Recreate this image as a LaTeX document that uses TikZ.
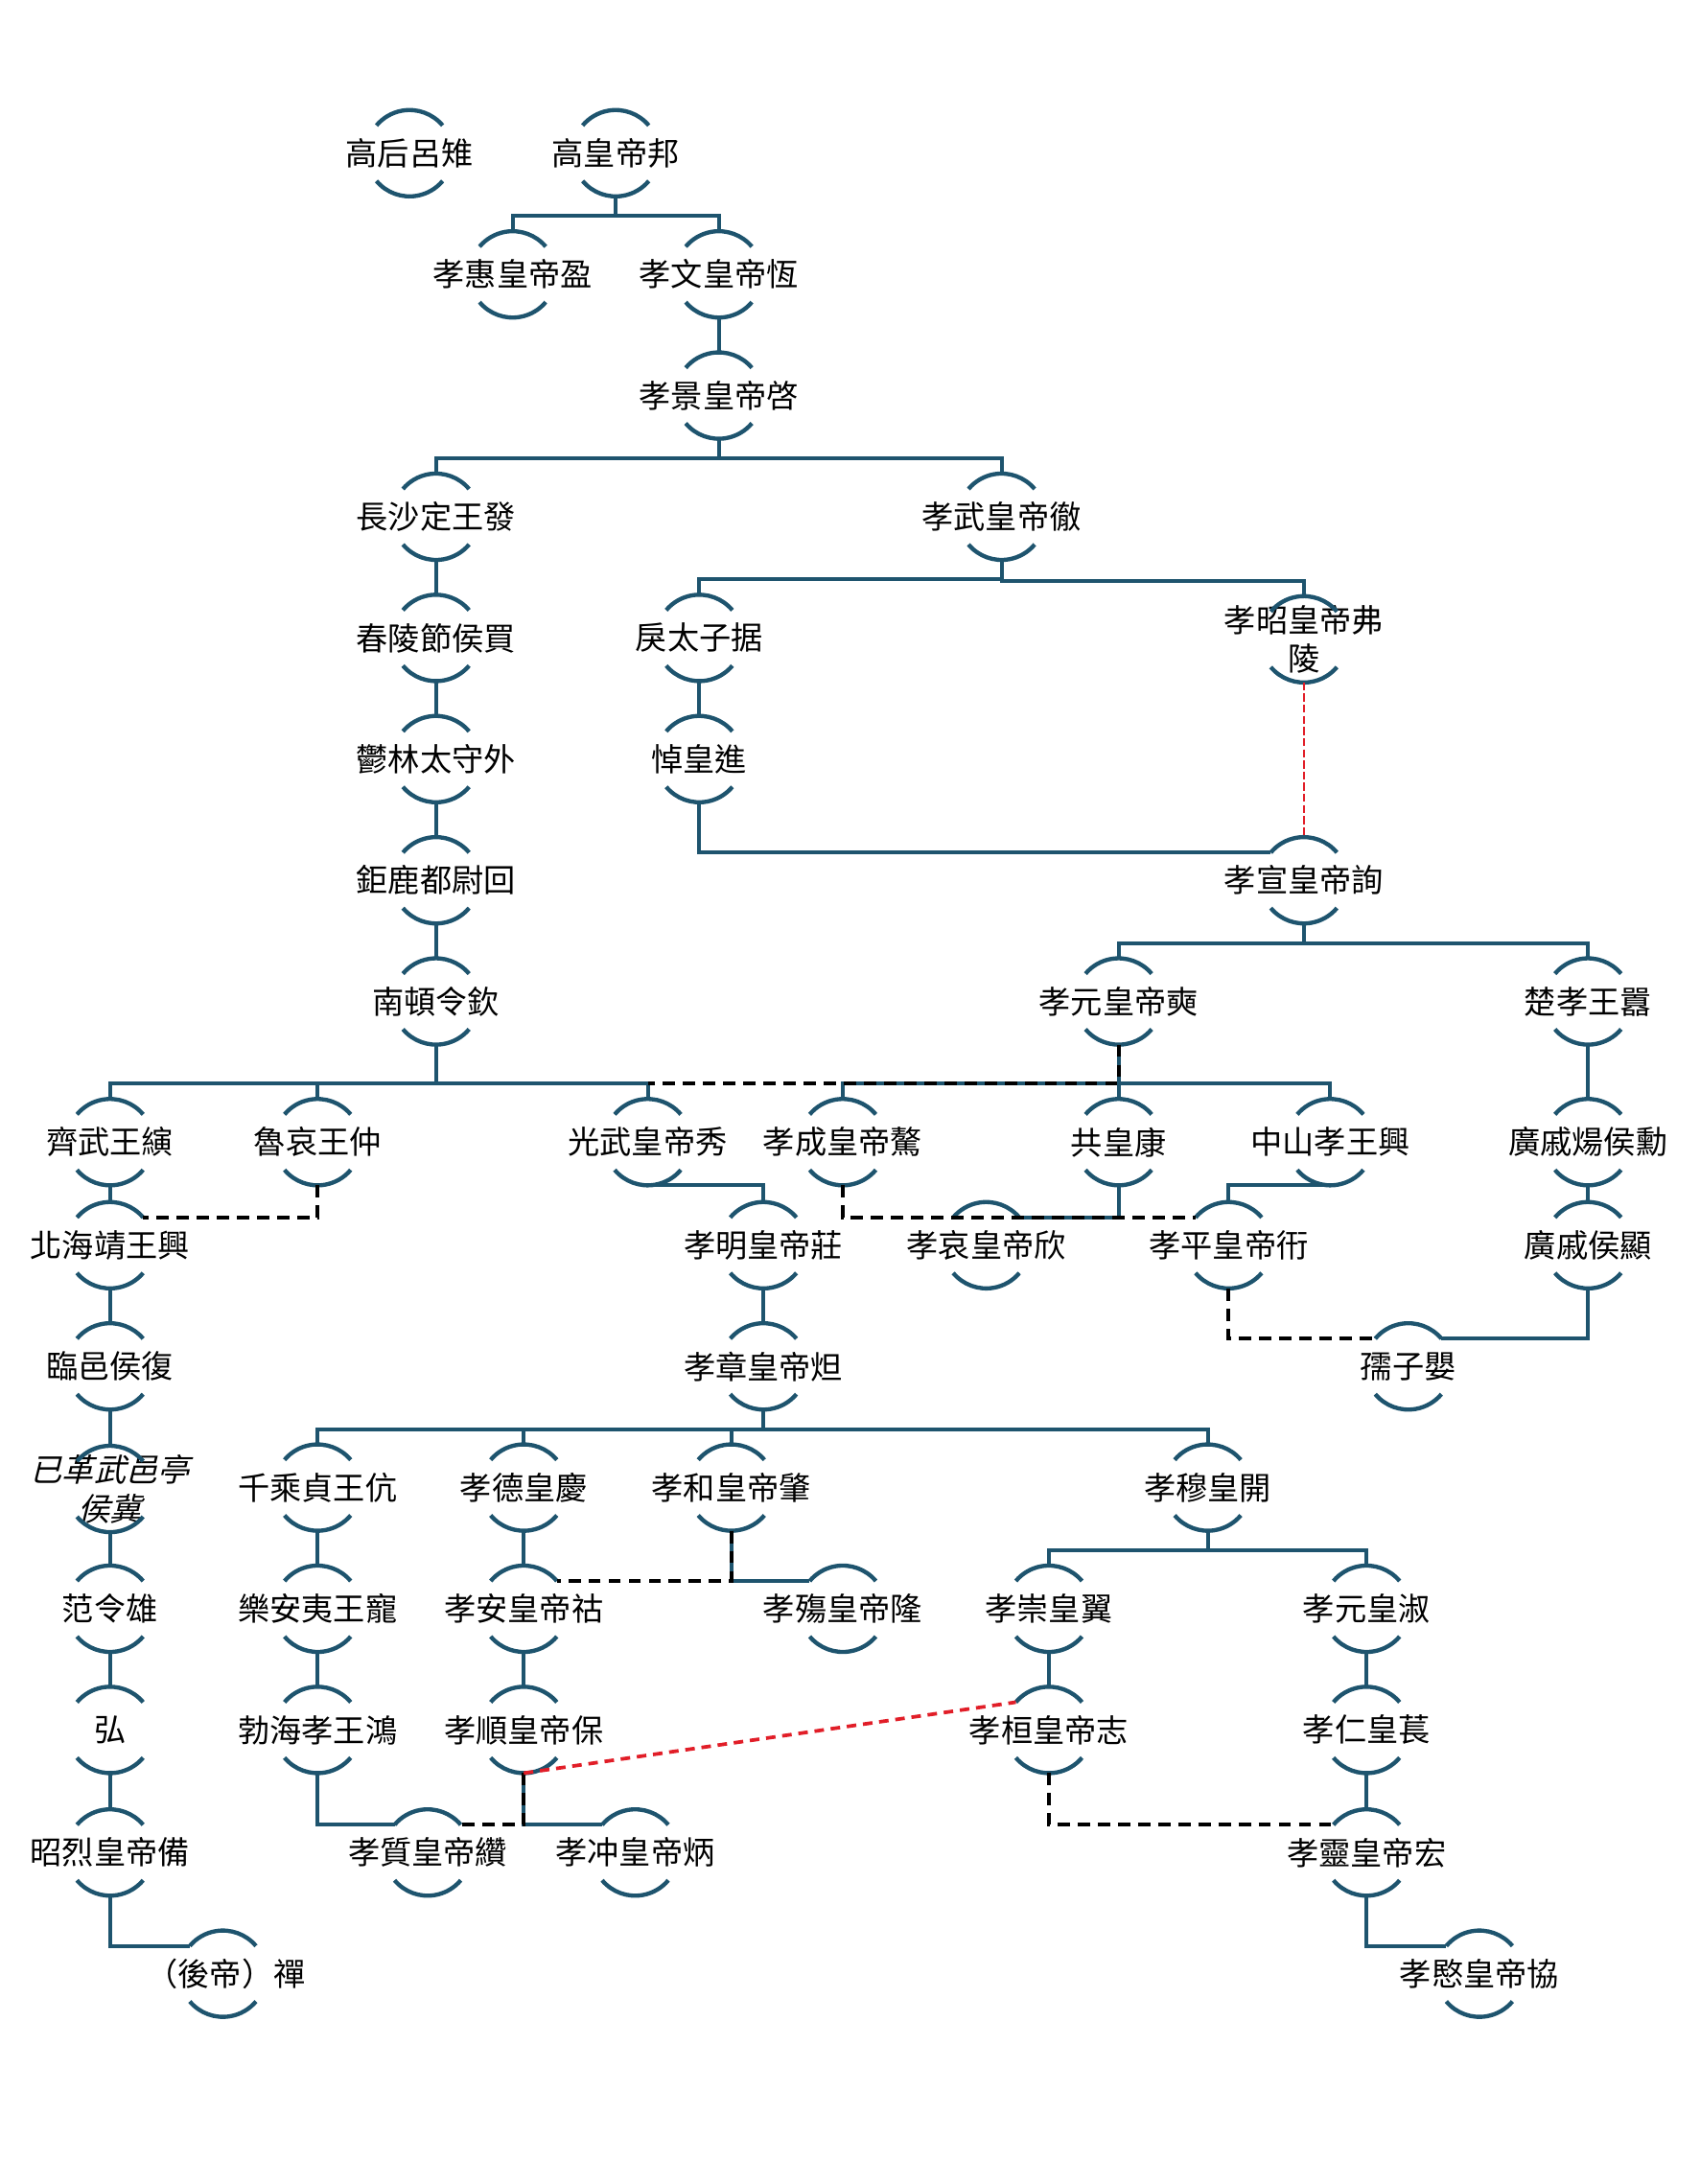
\documentclass[tikz,border=0pt]{standalone}
\usepackage{fontspec}
\setmainfont{Noto Sans CJK TC}
\newfontfamily\slantcjk[FakeSlant=0.25]{Noto Sans CJK TC}
\usetikzlibrary{calc}
\definecolor{tree}{RGB}{30,84,110}
\definecolor{redd}{RGB}{225,30,40}
\tikzset{
  pers/.style={font=\fontsize{16}{19.6}\selectfont, align=center, inner sep=0pt},
  arcsty/.style={draw=tree, line width=2.1pt},
  link/.style={draw=tree, line width=1.9pt},
  adopt/.style={draw=black, line width=1.9pt, dash pattern=on 6.2pt off 3.9pt},
  redthin/.style={draw=redd, line width=1.1pt, dash pattern=on 4pt off 1.6pt},
  redthick/.style={draw=redd, line width=1.8pt, dash pattern=on 4.8pt off 3.4pt},
}
\newcommand\person[4][]{%
  \coordinate (#2) at (#3);
  \node[pers,#1] (#2-n) at (#2) {#4};
  \draw[arcsty] ($(#2)+(40:31)$) arc[start angle=40,end angle=140,radius=31];
  \draw[arcsty] ($(#2)+(220:31)$) arc[start angle=220,end angle=320,radius=31];
  \coordinate (#2-t) at ($(#2)+(0,31)$);
  \coordinate (#2-b) at ($(#2)+(0,-31)$);
  \coordinate (#2-tl) at ($(#2)+(140:31)$);
  \coordinate (#2-tr) at ($(#2)+(40:31)$);
}
\newcommand\kid[2]{\draw[link] (#1-b) |- ([yshift=7.7pt]#2-t) -- (#2-t);}
\newcommand\down[2]{\draw[link] (#1-b) -- (#2-t);}
\begin{document}
\begin{tikzpicture}[x=0.7pt,y=0.7pt]
\useasboundingbox (0,0) rectangle (1220,-1568);
% people
\person{gaohou}{294,-110}{高后呂雉}
\person{gaodi}{442,-110}{高皇帝邦}
\person{hui}{368,-197}{孝惠皇帝盈}
\person{wen}{516,-197}{孝文皇帝恆}
\person{jing}{516,-284}{孝景皇帝啓}
\person{changsha}{313,-371}{長沙定王發}
\person{wu}{719,-371}{孝武皇帝徹}
\person{chongling}{313,-458}{春陵節侯買}
\person{li}{502,-458}{戾太子据}
\person{zhao}{936,-459}{孝昭皇帝弗\\陵}
\person{yulin}{313,-545}{鬱林太守外}
\person{dao}{502,-545}{悼皇進}
\person{julu}{313,-632}{鉅鹿都尉回}
\person{xuan}{936,-632}{孝宣皇帝詢}
\person{nandun}{313,-719}{南頓令欽}
\person{yuan}{803,-719}{孝元皇帝奭}
\person{chu}{1140,-719}{楚孝王囂}
\person{qi}{79,-820}{齊武王縯}
\person{luai}{228,-820}{魯哀王仲}
\person{guangwu}{465,-820}{光武皇帝秀}
\person{cheng}{605,-820}{孝成皇帝驁}
\person{gong}{803,-820}{共皇康}
\person{zhongshan}{955,-820}{中山孝王興}
\person{xun}{1140,-820}{廣戚煬侯勳}
\person{beihai}{79,-894}{北海靖王興}
\person{ming}{548,-894}{孝明皇帝莊}
\person{ai}{708,-894}{孝哀皇帝欣}
\person{ping}{882,-894}{孝平皇帝衎}
\person{xian}{1140,-894}{廣戚侯顯}
\person{linyi}{79,-981}{臨邑侯復}
\person{zhang}{548,-981}{孝章皇帝炟}
\person{ruzi}{1011,-981}{孺子嬰}
\person[font=\slantcjk\fontsize{16}{19.6}\selectfont]{ji}{79,-1069}{已革武邑亭\\侯冀}
\person{qiancheng}{228,-1068}{千乘貞王伉}
\person{de}{376,-1068}{孝德皇慶}
\person{he}{525,-1068}{孝和皇帝肇}
\person{mu}{867,-1068}{孝穆皇開}
\person{fan}{79,-1155}{范令雄}
\person{lean}{228,-1155}{樂安夷王寵}
\person{an}{376,-1155}{孝安皇帝祜}
\person{shang}{605,-1155}{孝殤皇帝隆}
\person{chongy}{753,-1155}{孝崇皇翼}
\person{yuanshu}{981,-1155}{孝元皇淑}
\person{hong}{79,-1242}{弘}
\person{bohai}{228,-1242}{勃海孝王鴻}
\person{shun}{376,-1242}{孝順皇帝保}
\person{huan}{753,-1242}{孝桓皇帝志}
\person{ren}{981,-1242}{孝仁皇萇}
\person{zhaolie}{79,-1330}{昭烈皇帝備}
\person{zhi}{307,-1330}{孝質皇帝纘}
\person{chong}{456,-1330}{孝冲皇帝炳}
\person{ling}{981,-1330}{孝靈皇帝宏}
\person[xshift=1.5pt]{chan}{160,-1417}{（後帝）禪}
\person{min}{1062,-1417}{孝愍皇帝協}
% descent lines
\kid{gaodi}{hui}\kid{gaodi}{wen}
\down{wen}{jing}
\kid{jing}{changsha}\kid{jing}{wu}
\down{changsha}{chongling}\down{chongling}{yulin}\down{yulin}{julu}\down{julu}{nandun}
\kid{wu}{li}\kid{wu}{zhao}
\down{li}{dao}
\draw[link] (dao-b) |- (xuan-tl);
\kid{xuan}{yuan}\kid{xuan}{chu}
\kid{nandun}{qi}\kid{nandun}{luai}\kid{nandun}{guangwu}
\kid{yuan}{cheng}\kid{yuan}{gong}\kid{yuan}{zhongshan}
\down{chu}{xun}\down{xun}{xian}
\draw[link] (xian-b) |- (ruzi-tr);
\draw[link] (zhongshan-b) -| (ping-t);
\draw[link] (gong-b) |- (ai-tr);
\draw[link] (guangwu-b) -| (ming-t);
\down{qi}{beihai}\down{beihai}{linyi}\down{linyi}{ji}\down{ji}{fan}\down{fan}{hong}\down{hong}{zhaolie}
\draw[link] (zhaolie-b) |- (chan-tl);
\down{ming}{zhang}
\kid{zhang}{qiancheng}\kid{zhang}{de}\kid{zhang}{he}\kid{zhang}{mu}
\down{qiancheng}{lean}\down{lean}{bohai}
\draw[link] (bohai-b) |- (zhi-tl);
\down{de}{an}\down{an}{shun}
\draw[link] (he-b) |- (shang-tl);
\draw[link] (shun-b) |- (chong-tl);
\kid{mu}{chongy}\kid{mu}{yuanshu}
\down{chongy}{huan}\down{yuanshu}{ren}\down{ren}{ling}
\draw[link] (ling-b) |- (min-tl);
% adoption / succession lines
\draw[adopt] (luai-b) |- (beihai-tr);
\draw[adopt] (yuan-b) |- ([yshift=7.7pt]guangwu-t);
\draw[adopt] (cheng-b) |- (ping-tl);
\draw[adopt] (he-b) |- (an-tr);
\draw[adopt] (shun-b) |- (zhi-tr);
\draw[adopt] (huan-b) |- (ling-tl);
\draw[adopt] (ping-b) |- (ruzi-tl);
\draw[redthin] (zhao-b) -- (xuan-t);
\draw[redthick] (shun-b) -- (huan-tl);
\end{tikzpicture}
\end{document}
